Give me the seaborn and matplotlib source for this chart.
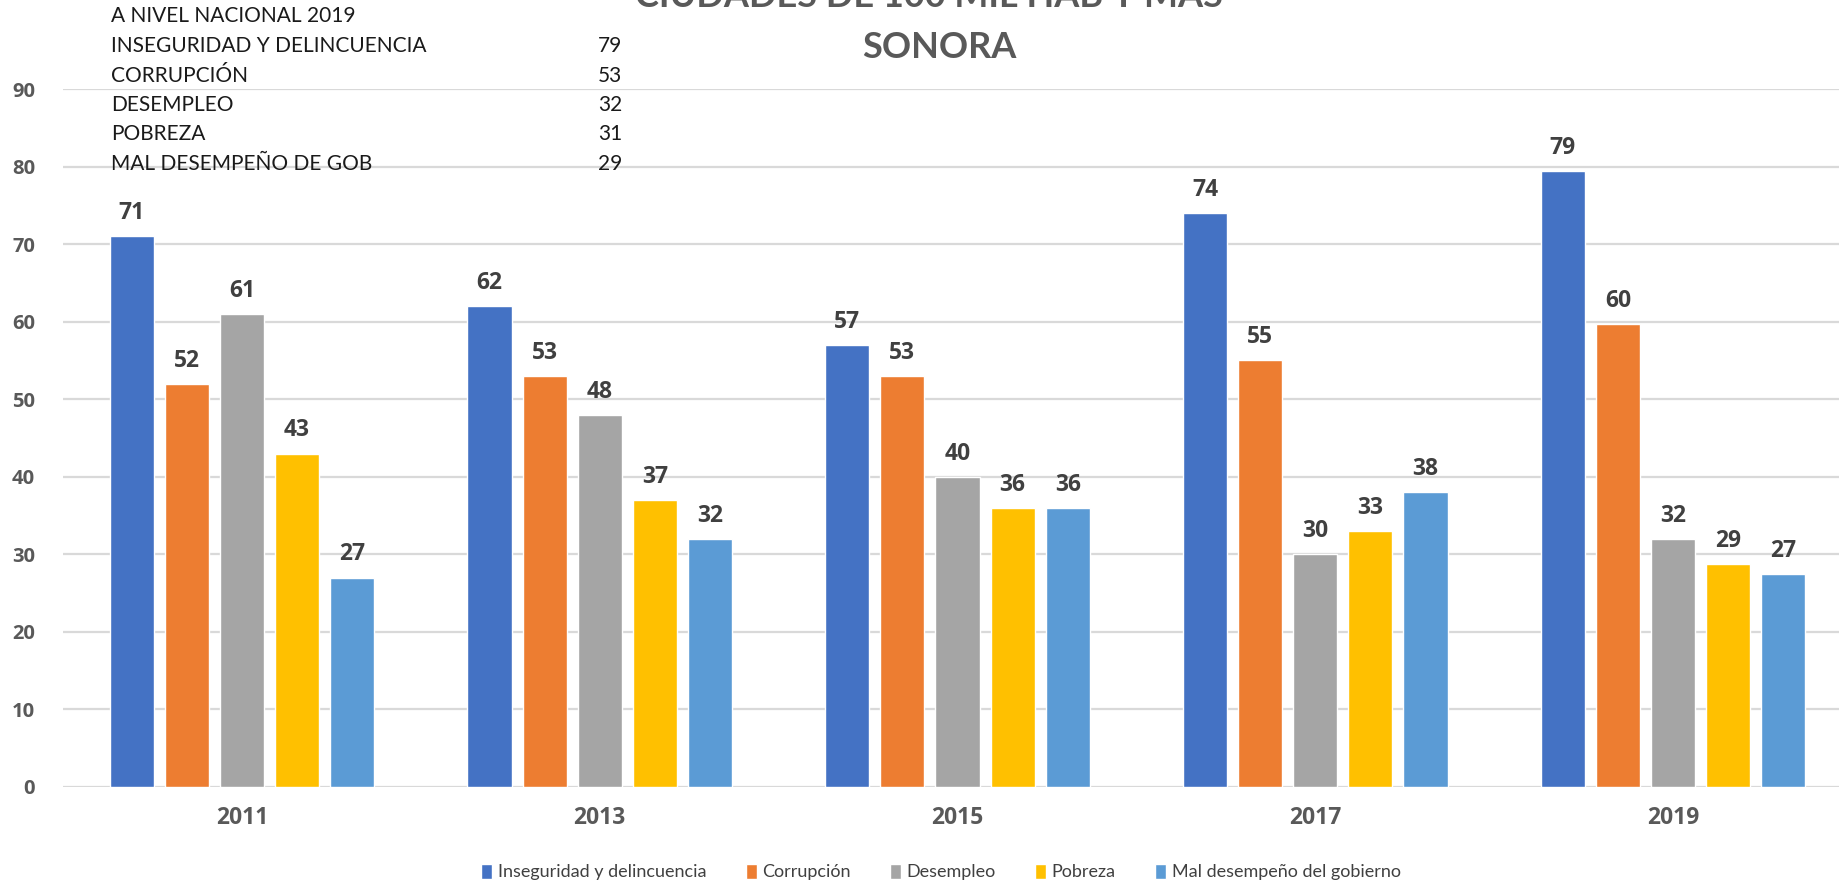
import pandas as pd
import matplotlib.pyplot as plt
import seaborn as sns

# ---- data ----
years = ["2011", "2013", "2015", "2017", "2019"]
series = ["Inseguridad y delincuencia", "Corrupción", "Desempleo", "Pobreza",
          "Mal desempeño del gobierno"]
inseguridad = [71, 62, 57, 74, 79.4]
corrupcion = [52, 53, 53, 55, 59.7]
desempleo = [61, 48, 40, 30, 32]
pobreza = [43, 37, 36, 33, 28.7]
mal_gob = [27, 32, 36, 38, 27.4]
colors = ["#4472C4", "#ED7D31", "#A5A5A5", "#FFC000", "#5B9BD5"]

nacional_labels = ["INSEGURIDAD Y DELINCUENCIA", "CORRUPCIÓN", "DESEMPLEO",
                   "POBREZA", "MAL DESEMPEÑO DE GOB"]
nacional_values = [79, 53, 32, 31, 29]

df = pd.DataFrame({
    "year": years * 5,
    "serie": [s for s in series for _ in years],
    "value": inseguridad + corrupcion + desempleo + pobreza + mal_gob,
})

sns.set_style("white")
plt.rcParams["font.family"] = ["Lato", "DejaVu Sans"]
num_font = ["Open Sans", "DejaVu Sans"]

fig = plt.figure(figsize=(18.4, 8.84), dpi=100)
ax = fig.add_axes([63 / 1840, 97 / 884, (1852 - 63) / 1840, (787 - 89) / 884])

sns.barplot(data=df, x="year", y="value", hue="serie", palette=colors,
            width=0.77, gap=0.2, ax=ax, saturation=1)

for c in ax.containers:
    ax.bar_label(c, fmt="{:.0f}", padding=8, fontsize=16.5, fontweight="bold",
                 color="#404040", family=num_font)

ax.set_ylim(0, 90)
ax.set_xlim(-0.5, 4.5)
ax.set_yticks(range(0, 91, 10))
ax.yaxis.grid(True, color="#d9d9d9", lw=1.6)
ax.set_axisbelow(True)
for s in ax.spines.values():
    s.set_visible(False)
ax.tick_params(axis="y", length=0, pad=20, labelsize=14.5, labelcolor="#595959")
ax.tick_params(axis="x", length=0, pad=14, labelsize=16.5, labelcolor="#595959")
for t in ax.get_yticklabels() + ax.get_xticklabels():
    t.set_fontweight("bold")
    t.set_family(num_font)
ax.set_xlabel("")
ax.set_ylabel("")

handles, labels = ax.get_legend_handles_labels()
ax.get_legend().remove()
fig.legend(handles, labels, loc="center", bbox_to_anchor=(941 / 1840, 1 - 872 / 884),
           ncol=5, frameon=False, fontsize=13, handlelength=0.6, handleheight=0.9,
           handletextpad=0.3, columnspacing=2.2, labelcolor="#404040")

# ---- titles ----
fig.text(929 / 1840, 1 - (-4) / 884, "CIUDADES DE 100 MIL HAB Y MÁS", ha="center",
         va="center", fontsize=26, fontweight="bold", color="#595959")
fig.text(939 / 1840, 1 - 47 / 884, "SONORA", ha="center", va="center",
         fontsize=26, fontweight="bold", color="#595959")

# ---- small national table ----
fig.text(111 / 1840, 1 - 16 / 884, "A NIVEL NACIONAL 2019", va="center",
         fontsize=15, color="#1a1a1a")
for i, (lab, val) in enumerate(zip(nacional_labels, nacional_values)):
    y = 1 - (46 + 29.5 * i) / 884
    fig.text(111 / 1840, y, lab, va="center", fontsize=15, color="#1a1a1a")
    fig.text(598 / 1840, y, str(val), va="center", fontsize=15, color="#1a1a1a")

plt.savefig("out.png", dpi=100)
plt.close()
